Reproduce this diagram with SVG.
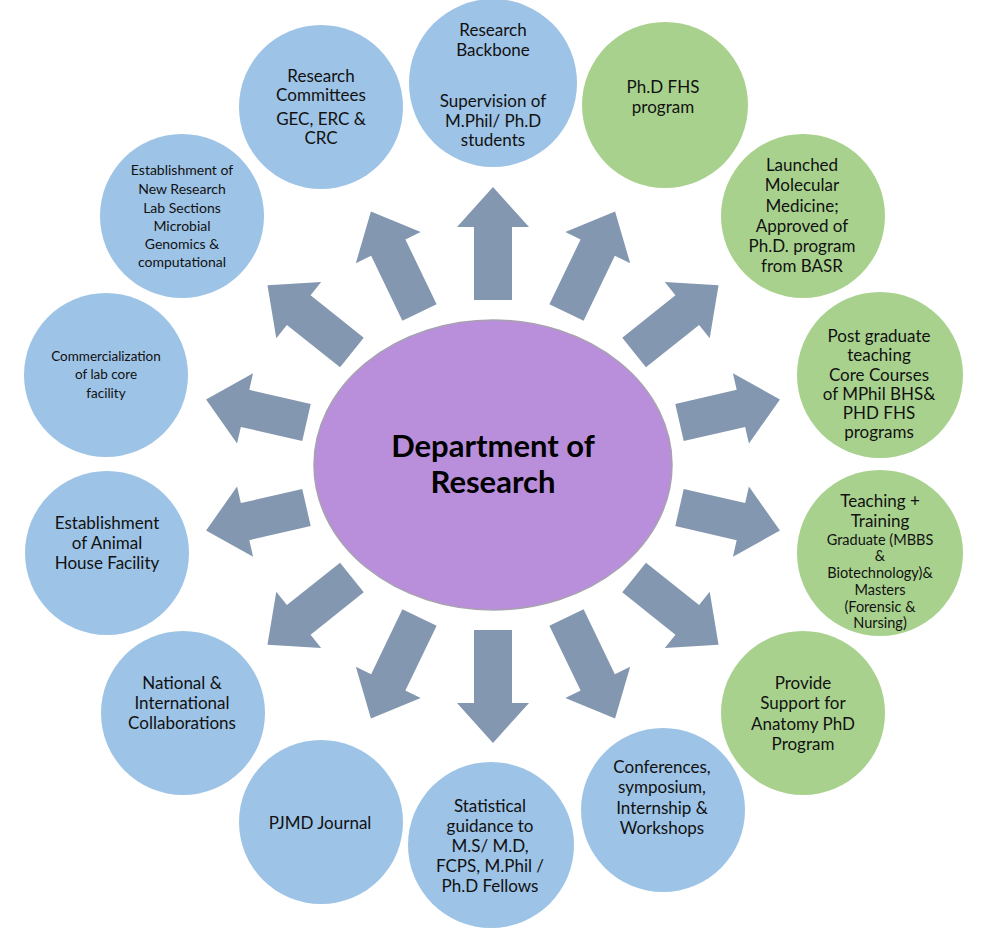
<svg xmlns="http://www.w3.org/2000/svg" xmlns:xlink="http://www.w3.org/1999/xlink" width="991" height="931" viewBox="0 0 991 931">
<style>
.blue{fill:#9dc3e6}
.green{fill:#a9d18e}
.arr{fill:#8497b0}
text{font-family:Lato,"Open Sans","Liberation Sans",sans-serif;fill:#111;text-anchor:middle;font-size:17px}
.s15{font-size:14.5px}
.s14{font-size:14px}
.s13{font-size:13.5px}
.title{font-size:31px;font-weight:bold;fill:#000}
</style>
<defs>
<path id="a113" d="M0,-19 L73,-19 L73,-36 L113,0 L73,36 L73,19 L0,19 Z"/>
<path id="a112" d="M0,-19 L72,-19 L72,-36 L112,0 L72,36 L72,19 L0,19 Z"/>
<path id="a108" d="M0,-19 L68,-19 L68,-36 L108,0 L68,36 L68,19 L0,19 Z"/>
<path id="a103" d="M0,-19 L63,-19 L63,-36 L103,0 L63,36 L63,19 L0,19 Z"/>
</defs>
<rect width="991" height="931" fill="#fff"/>
<g id="connectors" class="arr">
<use xlink:href="#a113" transform="translate(493,300) rotate(-90)"/>
<use xlink:href="#a112" transform="translate(566.5,312.5) rotate(-64.29)"/>
<use xlink:href="#a108" transform="translate(634.1,352.5) rotate(-38.57)"/>
<use xlink:href="#a103" transform="translate(679.5,422.4) rotate(-12.86)"/>
<use xlink:href="#a103" transform="translate(679.5,507.6) rotate(12.86)"/>
<use xlink:href="#a108" transform="translate(634.1,577.5) rotate(38.57)"/>
<use xlink:href="#a112" transform="translate(566.5,617.5) rotate(64.29)"/>
<use xlink:href="#a113" transform="translate(493,630) rotate(90)"/>
<use xlink:href="#a112" transform="translate(419.5,617.5) rotate(115.71)"/>
<use xlink:href="#a108" transform="translate(351.9,577.5) rotate(141.43)"/>
<use xlink:href="#a103" transform="translate(306.5,507.6) rotate(167.14)"/>
<use xlink:href="#a103" transform="translate(306.5,422.4) rotate(192.86)"/>
<use xlink:href="#a108" transform="translate(351.9,352.5) rotate(218.57)"/>
<use xlink:href="#a112" transform="translate(419.5,312.5) rotate(244.29)"/>
</g>
<g id="center">
<ellipse cx="493" cy="465" rx="179" ry="145" fill="#b98fdc" stroke="#a8a2b0" stroke-width="1.5"/>
<text class="title" x="493" y="457">Department of</text>
<text class="title" x="493" y="493">Research</text>
</g>
<g id="backbone">
<circle class="blue" cx="493" cy="83" r="84"/>
<text x="493" y="36">Research</text>
<text x="493" y="56">Backbone</text>
<text x="493" y="107">Supervision of</text>
<text x="493" y="127">M.Phil/ Ph.D</text>
<text x="493" y="146">students</text>
</g>
<g id="phd-fhs">
<circle class="green" cx="665" cy="105" r="83"/>
<text x="663" y="93">Ph.D FHS</text>
<text x="663" y="113">program</text>
</g>
<g id="molecular">
<circle class="green" cx="803" cy="216" r="82"/>
<text x="802" y="171">Launched</text>
<text x="802" y="191">Molecular</text>
<text x="802" y="212">Medicine;</text>
<text x="802" y="232">Approved of</text>
<text x="802" y="252">Ph.D. program</text>
<text x="802" y="272">from BASR</text>
</g>
<g id="postgrad">
<circle class="green" cx="880" cy="375" r="83"/>
<text x="879" y="342">Post graduate</text>
<text x="879" y="361">teaching</text>
<text x="879" y="381">Core Courses</text>
<text x="879" y="400">of MPhil BHS&amp;</text>
<text x="879" y="419">PHD FHS</text>
<text x="879" y="438">programs</text>
</g>
<g id="teaching">
<circle class="green" cx="880" cy="553" r="83"/>
<text x="880" y="507">Teaching +</text>
<text x="880" y="527">Training</text>
<text class="s15" x="880" y="545">Graduate (MBBS</text>
<text class="s15" x="880" y="561">&amp;</text>
<text class="s15" x="880" y="578">Biotechnology)&amp;</text>
<text class="s15" x="880" y="595">Masters</text>
<text class="s15" x="880" y="612">(Forensic &amp;</text>
<text class="s15" x="880" y="628">Nursing)</text>
</g>
<g id="anatomy">
<circle class="green" cx="803" cy="713" r="82"/>
<text x="803" y="689">Provide</text>
<text x="803" y="709">Support for</text>
<text x="803" y="730">Anatomy PhD</text>
<text x="803" y="750">Program</text>
</g>
<g id="conferences">
<circle class="blue" cx="663" cy="810" r="82"/>
<text x="662" y="773">Conferences,</text>
<text x="662" y="793">symposium,</text>
<text x="662" y="814">Internship &amp;</text>
<text x="662" y="834">Workshops</text>
</g>
<g id="statistical">
<circle class="blue" cx="491" cy="845" r="83"/>
<text x="490" y="812">Statistical</text>
<text x="490" y="832">guidance to</text>
<text x="490" y="852">M.S/ M.D,</text>
<text x="490" y="872">FCPS, M.Phil /</text>
<text x="490" y="892">Ph.D Fellows</text>
</g>
<g id="pjmd">
<circle class="blue" cx="321" cy="822" r="82"/>
<text x="320" y="829">PJMD Journal</text>
</g>
<g id="collaborations">
<circle class="blue" cx="183" cy="713" r="82"/>
<text x="182" y="689">National &amp;</text>
<text x="182" y="709">International</text>
<text x="182" y="729">Collaborations</text>
</g>
<g id="animal-house">
<circle class="blue" cx="107" cy="553" r="82"/>
<text x="107" y="529">Establishment</text>
<text x="107" y="549">of Animal</text>
<text x="107" y="569">House Facility</text>
</g>
<g id="commercialization">
<circle class="blue" cx="106" cy="375" r="82"/>
<text class="s13" x="106" y="361">Commercialization</text>
<text class="s13" x="106" y="379">of lab core</text>
<text class="s13" x="106" y="398">facility</text>
</g>
<g id="new-lab">
<circle class="blue" cx="182" cy="216" r="82"/>
<text class="s14" x="182" y="175">Establishment of</text>
<text class="s14" x="182" y="194">New Research</text>
<text class="s14" x="182" y="213">Lab Sections</text>
<text class="s14" x="182" y="231">Microbial</text>
<text class="s14" x="182" y="249">Genomics &amp;</text>
<text class="s14" x="182" y="267">computational</text>
</g>
<g id="committees">
<circle class="blue" cx="321" cy="107" r="82"/>
<text x="321" y="82">Research</text>
<text x="321" y="101">Committees</text>
<text x="321" y="125">GEC, ERC &amp;</text>
<text x="321" y="144">CRC</text>
</g>
</svg>
